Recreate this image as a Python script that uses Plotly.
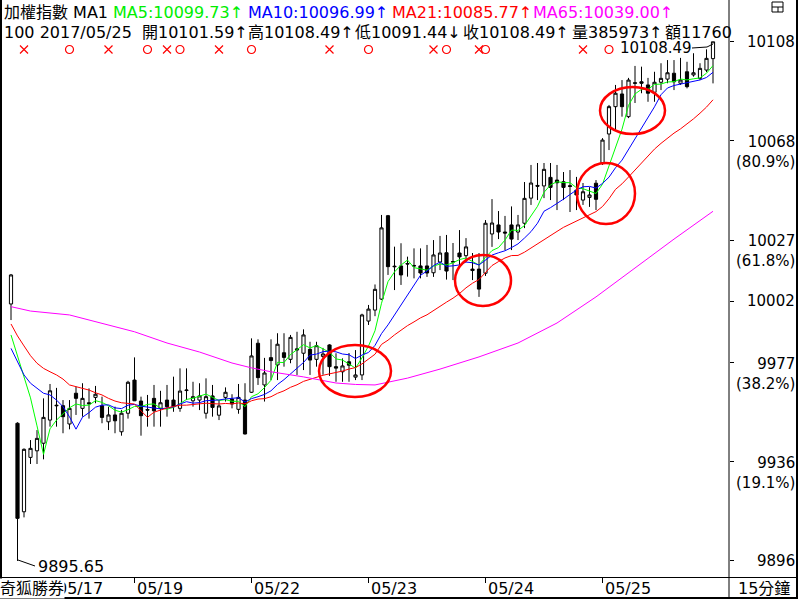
import plotly.graph_objects as go
import pandas as pd

# 加權指數 15分鐘 K 線, bar 0 .. 108
opens = [10001.0, 9952.1, 9915.8, 9938.1, 9940.8, 9943.9, 9953.4, 9959.5, 9959.3, 9951.8,
         9964.4, 9958.2, 9960.5, 9962.7, 9959.3, 9952.7, 9955.5, 9948.6, 9956.2, 9969.8,
         9961.2, 9957.7, 9962.3, 9958.2, 9961.6, 9961.6, 9958.2, 9965.5, 9961.3, 9961.6,
         9956.2, 9963.3, 9955.4, 9962.7, 9962.0, 9957.8, 9961.6, 9964.8, 9984.9, 9967.8,
         9979.0, 9976.0, 9981.0, 9978.3, 9982.6, 9980.8, 9982.4, 9978.3, 9979.5, 9984.2,
         9975.3, 9973.2, 9977.3, 9971.0, 9971.9, 9994.0, 9998.5, 10003.0, 10037.2, 10016.5,
         10016.6, 10017.6, 10016.8, 10016.6, 10016.6, 10013.8, 10018.2, 10022.0, 10018.4, 10021.9,
         10020.8, 10015.3, 10015.3, 10013.6, 10029.7, 10033.4, 10030.5, 10033.4, 10030.5, 10034.1,
         10044.4, 10049.6, 10049.4, 10052.9, 10051.8, 10051.1, 10049.5, 10047.7, 10043.6, 10044.7,
         10050.5, 10058.9, 10070.7, 10081.9, 10087.1, 10077.8, 10091.7, 10092.1, 10090.8, 10087.8,
         10091.9, 10093.2, 10095.6, 10091.5, 10096.2, 10094.9, 10093.5, 10096.9, 10101.59]
highs = [10013.3, 9952.5, 9941.8, 9945.2, 9949.3, 9962.3, 9968.2, 9966.6, 9961.6, 9961.6,
         9967.1, 9968.5, 9966.4, 9967.4, 9963.0, 9958.9, 9958.9, 9957.5, 9969.5, 9979.1,
         9963.0, 9963.7, 9967.8, 9965.4, 9967.8, 9971.2, 9974.6, 9974.6, 9969.1, 9968.5,
         9970.5, 9967.8, 9961.6, 9966.8, 9964.0, 9968.2, 9968.5, 9986.9, 9986.5, 9978.9,
         9986.5, 9989.0, 9989.0, 9988.3, 9989.6, 9990.6, 9985.5, 9985.5, 9983.0, 9984.5,
         9980.8, 9978.7, 9980.9, 9982.1, 9997.0, 10000.6, 10009.0, 10037.5, 10037.5, 10024.5,
         10025.9, 10020.4, 10023.8, 10023.8, 10025.2, 10027.2, 10028.9, 10029.3, 10026.0, 10031.3,
         10028.0, 10021.9, 10021.9, 10035.4, 10044.0, 10039.1, 10037.1, 10041.0, 10037.5, 10051.0,
         10058.0, 10058.8, 10058.8, 10058.8, 10058.0, 10055.1, 10055.9, 10053.1, 10050.6, 10048.9,
         10051.8, 10069.0, 10082.6, 10090.8, 10092.8, 10093.7, 10098.6, 10098.3, 10093.7, 10096.2,
         10099.7, 10101.0, 10101.0, 10101.9, 10100.3, 10103.8, 10099.7, 10105.4, 10108.49]
lows = [9994.4, 9895.65, 9913.5, 9935.4, 9935.4, 9937.3, 9950.7, 9950.7, 9948.0, 9949.6,
        9955.5, 9954.8, 9954.0, 9960.3, 9952.1, 9949.3, 9948.0, 9947.0, 9954.0, 9961.2,
        9947.0, 9950.7, 9950.7, 9950.7, 9954.8, 9956.8, 9956.8, 9961.6, 9958.9, 9957.5,
        9954.0, 9954.8, 9953.4, 9961.0, 9958.2, 9956.0, 9947.5, 9964.5, 9967.8, 9961.0,
        9969.8, 9969.8, 9975.3, 9976.7, 9971.9, 9973.9, 9971.9, 9975.3, 9972.0, 9971.5,
        9969.1, 9969.1, 9969.1, 9969.8, 9969.8, 9992.4, 9996.0, 10002.6, 10012.9, 10006.7,
        10008.8, 10012.2, 10011.5, 10011.5, 10012.1, 10012.1, 10014.9, 10011.0, 10010.8, 10017.0,
        10018.2, 10010.8, 10003.9, 10012.5, 10024.4, 10027.6, 10023.1, 10023.1, 10027.2, 10032.1,
        10041.6, 10043.6, 10044.4, 10043.6, 10039.5, 10043.6, 10038.7, 10039.5, 10041.6, 10040.8,
        10039.5, 10058.0, 10064.1, 10072.3, 10077.8, 10077.2, 10083.4, 10087.4, 10083.9, 10083.9,
        10088.7, 10091.5, 10088.7, 10090.8, 10089.4, 10094.2, 10092.8, 10096.1, 10091.44]
closes = [10012.9, 9913.1, 9941.4, 9941.8, 9945.9, 9954.5, 9965.4, 9959.3, 9954.8, 9958.2,
          9962.3, 9962.3, 9960.1, 9964.0, 9954.5, 9955.5, 9953.1, 9956.2, 9968.9, 9961.3,
          9955.2, 9957.5, 9957.2, 9960.5, 9958.9, 9958.9, 9965.3, 9965.7, 9963.0, 9963.3,
          9963.0, 9958.6, 9959.2, 9964.8, 9960.0, 9962.7, 9947.7, 9979.7, 9970.8, 9972.7,
          9977.8, 9984.5, 9979.1, 9987.3, 9982.2, 9988.3, 9978.0, 9983.9, 9980.5, 9975.3,
          9974.7, 9975.6, 9975.9, 9971.9, 9996.5, 9998.9, 10007.0, 10032.2, 10016.3, 10016.3,
          10012.9, 10017.4, 10016.6, 10013.7, 10013.7, 10021.1, 10021.9, 10014.5, 10018.2, 10020.3,
          10024.4, 10014.7, 10007.1, 10034.1, 10034.2, 10030.5, 10030.1, 10027.6, 10033.4, 10044.3,
          10050.6, 10049.3, 10056.2, 10048.8, 10050.7, 10048.8, 10049.2, 10045.7, 10047.0, 10045.7,
          10043.9, 10068.2, 10081.9, 10087.4, 10081.9, 10092.8, 10091.5, 10091.5, 10087.4, 10091.9,
          10093.5, 10095.8, 10092.1, 10092.8, 10090.1, 10095.8, 10097.6, 10101.7, 10108.49]
bars = list(range(len(closes)))

# moving averages before enough bars are on screen
ma5_head = [9988.3, 9979.4, 9970.6, 9962.5]
ma10_head = [9982.8, 9977.3, 9971.9, 9968.5, 9966.4, 9964.4, 9963.7, 9961.6, 9958.9]
ma21_head = [9992.8, 9987.9, 9983.8, 9979.8, 9976.7, 9974.6, 9973.2, 9971.9, 9970.2, 9967.8,
             9967.1, 9966.4, 9965.7, 9964.6, 9963.7, 9962.3, 9961.2, 9960.5, 9960.3, 9960.0]
# MA65
ma65_bars = [0, 3, 9, 14, 19, 24, 29, 34, 37, 40, 45, 50, 53, 56, 58, 61, 66, 72, 78, 84, 90, 96, 102, 108]
ma65_vals = [9999.9, 9998.1, 9996.5, 9993.2, 9989.6, 9985.0, 9981.3, 9976.8, 9974.8, 9973.2,
             9971.1, 9968.6, 9968.0, 9967.8, 9969.0, 9970.6, 9974.3, 9979.3, 9985.0, 9993.2,
             10003.9, 10015.8, 10027.6, 10039.0]

# signal marks above the chart
sell_marks = [2, 15, 24, 32, 49, 65, 72, 88]
buy_marks = [9, 21, 26, 37, 55, 67, 73, 92]

# right axis levels (high, fib levels, low)
level_vals = [10108.49, 10067.84, 10027.18, 10002.07, 9976.96, 9936.30, 9895.65]
level_text = ['10108', '10068<br>(80.9%)', '10027<br>(61.8%)', '10002',
              '9977<br>(38.2%)', '9936<br>(19.1%)', '9896']

day_ticks = [19, 37, 55, 73, 91]
day_labels = ["05/19", "05/22", "05/23", "05/24", "05/25"]

header1 = [("加權指數 MA1", 'black'), ("MA5:10099.73↑", '#00ee00'), ("MA10:10096.99↑", '#0000ff'),
           ("MA21:10085.77↑", '#ff0000'), ("MA65:10039.00↑", '#ff00ff')]
header1_x = [4, 113, 248, 392, 533]
header2 = ["100 2017/05/25", "開10101.59↑", "高10108.49↑", "低10091.44↓", "收10108.49↑",
           "量385973↑", "額11760"]
header2_x = [4, 142, 248, 355, 463, 572, 665]

FONT = "DejaVu Sans, Noto Sans CJK TC, sans-serif"

# plot area in pixels: x 2..729, y 2..577
L, R, T, B = 2, 729, 2, 577
Y_TOP, Y_BOT = 10124.81, 9889.06
X_LO, X_HI = -9 / 6.5, 718 / 6.5


def px(x):
    return (x - L) / (R - L)


def py(y):
    return (B - y) / (B - T)


def yval(y):
    return Y_TOP - (y - T) * (Y_TOP - Y_BOT) / (B - T)


c = pd.Series(closes)
ma5 = c.rolling(5).mean().tolist()
ma5[:len(ma5_head)] = ma5_head
ma10 = c.rolling(10).mean().tolist()
ma10[:len(ma10_head)] = ma10_head
ma21 = c.rolling(21).mean().tolist()
ma21[:len(ma21_head)] = ma21_head

fig = go.Figure()
fig.add_trace(go.Candlestick(
    x=bars, open=opens, high=highs, low=lows, close=closes,
    increasing=dict(line=dict(color='black', width=1), fillcolor='white'),
    decreasing=dict(line=dict(color='black', width=1), fillcolor='black'),
    whiskerwidth=0, hoverinfo='skip', showlegend=False))
for vals, col in [(ma5, '#00ff00'), (ma10, '#0000ff'), (ma21, '#ff0000')]:
    fig.add_trace(go.Scatter(x=bars, y=vals, mode='lines', line=dict(color=col, width=1),
                             hoverinfo='skip', showlegend=False))
fig.add_trace(go.Scatter(x=ma65_bars, y=ma65_vals, mode='lines', line=dict(color='#ff00ff', width=1),
                         hoverinfo='skip', showlegend=False))

mark_y = yval(49.5)
fig.add_trace(go.Scatter(x=sell_marks, y=[mark_y] * len(sell_marks), mode='markers',
                         marker=dict(symbol='x-thin', size=8, line=dict(color='red', width=1.2)),
                         hoverinfo='skip', showlegend=False))
fig.add_trace(go.Scatter(x=buy_marks, y=[mark_y] * len(buy_marks), mode='markers',
                         marker=dict(symbol='circle-open', size=8, color='red', line=dict(width=1.2)),
                         hoverinfo='skip', showlegend=False))


def note(x, y, s, color='black', size=16, xa='left', ya='middle', **kw):
    d = dict(x=px(x), y=py(y), xref='paper', yref='paper', text=s, showarrow=False,
             xanchor=xa, yanchor=ya, font=dict(family=FONT, size=size, color=color))
    d.update(kw)
    return d


ann = []
for (s, col), x in zip(header1, header1_x):
    ann.append(note(x - 2, 13, s, col))
for s, x in zip(header2, header2_x):
    ann.append(note(x - 2, 32, s))
for v, s in zip(level_vals, level_text):
    a = dict(x=px(797), y=v, xref='paper', yref='y', text=s, showarrow=False, xanchor='right',
             font=dict(family=FONT, size=15, color='black'), align='right')
    if '<br>' in s:
        a.update(yanchor='top', yshift=10)
    else:
        a.update(yanchor='middle')
    ann.append(a)
ann.append(note(36, 566, "9895.65"))
ann.append(note(618, 48, "10108.49", size=15))
ann.append(note(55, 588, "05/17"))
for t, s in zip(day_ticks, day_labels):
    ann.append(note(11 + 6.5 * t, 588, s))
ann.append(note(-1, 588, "奇狐勝券", bgcolor='white', borderpad=0))
ann.append(note(736, 588, "15分鐘"))

shapes = []


def seg(x0, y0, x1, y1, w=1, col='black'):
    shapes.append(dict(type='line', xref='paper', yref='paper', x0=px(x0), y0=py(y0),
                       x1=px(x1), y1=py(y1), line=dict(color=col, width=w)))


seg(1, 0, 1, 599, 2)
seg(797, 0, 797, 599, 2)
seg(0, 598, 798, 598, 2)
seg(0, 577.5, 798, 577.5, 1)
seg(729, 0, 729, 598, 1)
# leader lines to the extreme labels
seg(18, 560, 35, 566)
seg(692, 48, 707, 47)
seg(707, 47, 713, 44)
# small window icon
shapes.append(dict(type='rect', xref='paper', yref='paper', x0=px(772), x1=px(783),
                   y0=py(12), y1=py(2), line=dict(color='black', width=1)))
seg(772, 7, 783, 7)
seg(778, 7, 778, 12)

# red circles around the turning points
for x0, x1, y0, y1 in [(319, 391, 345, 397), (455, 511, 255, 306),
                       (577, 635, 163, 224), (600, 665, 87, 134)]:
    shapes.append(dict(type='circle', xref='paper', yref='paper', x0=px(x0), x1=px(x1),
                       y0=py(y1), y1=py(y0), line=dict(color='#ff0000', width=2.5)))

fig.update_layout(
    width=800, height=600,
    margin=dict(l=L, r=800 - R, t=T, b=600 - B),
    paper_bgcolor='white', plot_bgcolor='white',
    showlegend=False, hovermode=False,
    annotations=ann, shapes=shapes,
    xaxis=dict(range=[X_LO, X_HI], showgrid=False, zeroline=False, showline=False,
               tickvals=day_ticks, ticks='outside', ticklen=5, tickcolor='black',
               showticklabels=False, rangeslider=dict(visible=False), fixedrange=True),
    yaxis=dict(range=[Y_BOT, Y_TOP], side='right', showgrid=False, zeroline=False, showline=False,
               tickvals=level_vals, ticks='outside', ticklen=4, tickcolor='black',
               showticklabels=False, fixedrange=True),
)

fig.write_html("out.html", config={'displayModeBar': False},
               post_script="document.body.style.margin='0';")
